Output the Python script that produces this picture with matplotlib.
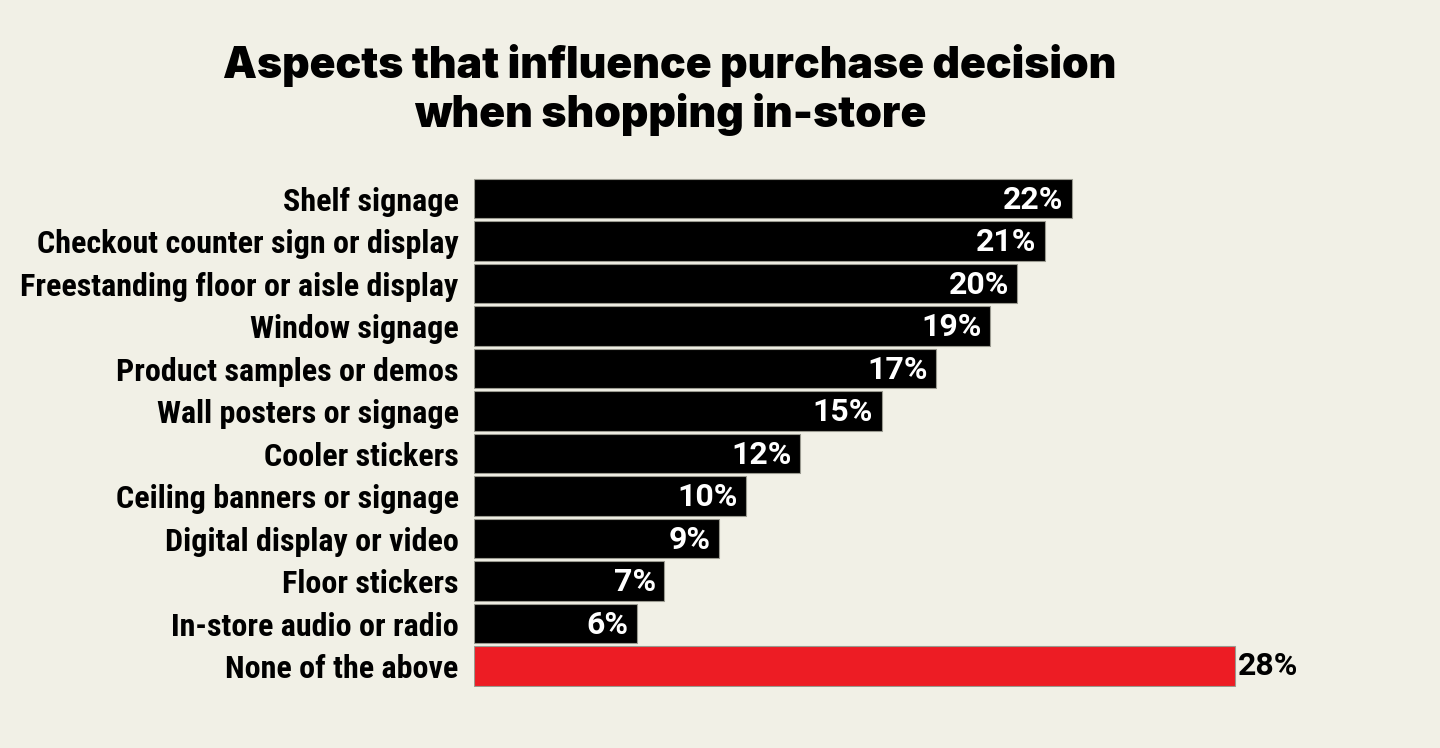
import matplotlib.pyplot as plt
from matplotlib import font_manager

# Data
categories = ['Shelf signage', 'Checkout counter sign or display',
              'Freestanding floor or aisle display', 'Window signage',
              'Product samples or demos', 'Wall posters or signage',
              'Cooler stickers', 'Ceiling banners or signage',
              'Digital display or video', 'Floor stickers',
              'In-store audio or radio', 'None of the above']
values = [22, 21, 20, 19, 17, 15, 12, 10, 9, 7, 6, 28]

bg = '#f1f0e6'
colors = ['#000000'] * (len(values) - 1) + ['#ed1c24']

# pick a narrow font if there is one
installed = {f.name for f in font_manager.fontManager.ttflist}
narrow = None
for name in ['Roboto Condensed', 'Liberation Sans Narrow', 'DejaVu Sans Condensed']:
    if name in installed:
        narrow = name
        break
if narrow is None:
    label_font = ['Roboto', 'DejaVu Sans']
    label_size = 20.5
else:
    label_font = [narrow, 'DejaVu Sans']
    label_size = 23
title_font = ['Inter', 'DejaVu Sans']

fig = plt.figure(figsize=(14.4, 7.48), dpi=100, facecolor=bg)
ax = fig.add_axes([474 / 1440, 0.0812, 951 / 1440, 0.6818])
ax.set_facecolor(bg)

y = list(range(len(values)))
ax.barh(y, values, height=0.92, color=colors, edgecolor='#9a9a90', linewidth=0.8)

ax.set_xlim(0, 35)
ax.set_ylim(len(values) - 0.5, -0.5)

ax.set_yticks(y)
ax.set_yticklabels(categories, family=label_font, fontweight='bold', fontsize=label_size)
ax.tick_params(axis='y', length=0, pad=11)
ax.set_xticks([])
for s in ax.spines.values():
    s.set_visible(False)

# Value labels
for i, v in enumerate(values):
    if i == len(values) - 1:
        ax.annotate(f'{v}%', (v, i), xytext=(2, 0), textcoords='offset points',
                    ha='left', va='center', color='black', fontsize=23,
                    family=['Roboto', 'DejaVu Sans'], fontweight='bold')
    else:
        ax.annotate(f'{v}%', (v, i), xytext=(-6, -1), textcoords='offset points',
                    ha='right', va='center', color='white', fontsize=23,
                    family=['Roboto', 'DejaVu Sans'], fontweight='bold')

fig.text(670 / 1440, 1 - 90 / 748,
         'Aspects that influence purchase decision\nwhen shopping in-store',
         ha='center', va='center', fontsize=30.8, fontweight='black',
         family=title_font, linespacing=1.2)

fig.savefig('out.png', dpi=100, facecolor=bg)
